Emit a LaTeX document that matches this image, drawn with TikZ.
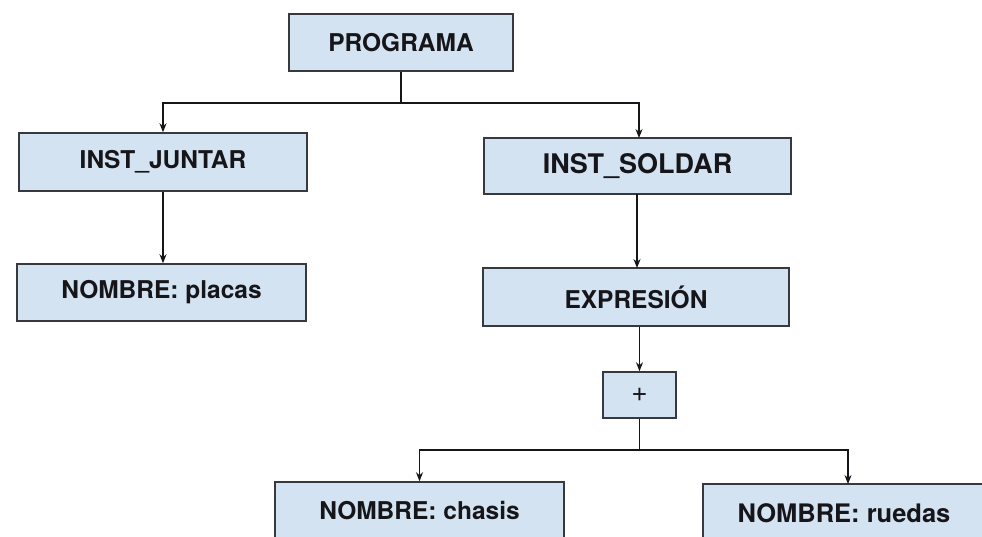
\documentclass[tikz,border=0pt]{standalone}
\usepackage{fontspec}
\setmainfont{TeX Gyre Heros}
\usetikzlibrary{arrows.meta}
\definecolor{boxfill}{RGB}{212,227,241}
\definecolor{boxline}{RGB}{55,57,62}
\definecolor{ink}{RGB}{22,22,26}
\tikzset{
  treebox/.style={draw=boxline, line width=1.5pt, fill=boxfill, inner sep=0pt,
    text=ink, font=\fontsize{24.5}{28}\selectfont\bfseries},
  link/.style={draw=ink, line width=1.2pt},
  arrowlink/.style={link, -{Stealth[length=9pt,width=7pt]}}
}
\begin{document}
\begin{tikzpicture}[x=1pt,y=-1pt]
  \useasboundingbox (0,0) rectangle (982,536);
  \clip (0,0) rectangle (982,536);
  \fill[white] (0,0) rectangle (982,536);

  % tree nodes
  \node[treebox, minimum width=224pt, minimum height=57pt] (prog) at (401,42.5) {PROGRAMA};
  \node[treebox, minimum width=288pt, minimum height=58pt] (juntar) at (163,162) {INST\_JUNTAR};
  \node[treebox, minimum width=307pt, minimum height=56pt,
        font=\fontsize{27}{30}\selectfont\bfseries] (soldar) at (637.5,166) {INST\_SOLDAR};
  \node[treebox, minimum width=289pt, minimum height=57pt] (placas) at (161.5,292.5) {NOMBRE: placas};
  \node[treebox, minimum width=306pt, minimum height=58pt] (expr) at (636,297) {EXPRESIÓN};
  \node[treebox, minimum width=73pt, minimum height=46pt,
        font=\fontsize{28}{30}\selectfont] (plus) at (639.5,395) {+};
  \node[treebox, minimum width=289pt, minimum height=58pt] (chasis) at (419.5,511) {NOMBRE: chasis};
  \node[treebox, minimum width=282pt, minimum height=58pt,
        font=\fontsize{25.5}{29}\selectfont\bfseries] (ruedas) at (844,513) {NOMBRE: ruedas};

  % branch points
  \coordinate (progfork) at (401,103);
  \coordinate (plusfork) at (639.5,450);
  \coordinate (ruedastop) at (848,484);

  % PROGRAMA -> instructions
  \draw[link] (prog.south) -- (progfork);
  \draw[arrowlink] (progfork) -| (juntar.north);
  \draw[arrowlink] (progfork) -| (639,138);

  % INST_JUNTAR -> NOMBRE: placas
  \draw[arrowlink] (juntar.south) -- (juntar.south |- placas.north);

  % INST_SOLDAR -> EXPRESION -> +
  \draw[arrowlink] (637,194) -- (637,268);
  \draw[arrowlink] (expr.south -| plus.north) -- (plus.north);

  % + -> operands
  \draw[link] (plus.south) -- (plusfork);
  \draw[arrowlink] (plusfork) -| (chasis.north);
  \draw[arrowlink] (plusfork) -| (ruedastop);
\end{tikzpicture}
\end{document}
